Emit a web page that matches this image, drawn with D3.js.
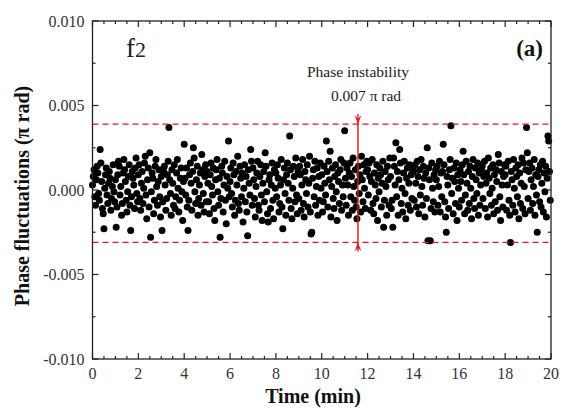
<!DOCTYPE html>
<html><head><meta charset="utf-8">
<script src="https://cdn.jsdelivr.net/npm/d3@7"></script>
<style>body{margin:0;background:#fff}svg{display:block}</style>
</head><body>
<script>
// Phase fluctuations in units of 1e-4 pi rad, one row per minute (30 samples/min, 2 s spacing)
const phaseRows = [
 [3,8,12,-4,-9,6,14,10,-2,-6,24,16,5,-11,-14,-23,1,9,13,-3,-8,4,11,7,-12,-5,2,15,-1,-7],
 [6,-22,-10,9,17,14,-3,2,-15,-8,10,18,12,5,-6,-13,-1,8,15,-9,-24,-4,11,7,3,-11,13,19,-2,-7],
 [9,15,-5,-12,4,11,-8,1,16,20,-3,-17,6,13,-10,22,-28,-1,10,7,-14,-6,14,18,2,-9,5,12,-4,-16],
 [8,-24,-7,11,14,3,-12,-5,9,17,37,6,-2,-15,12,4,-9,15,-11,-4,10,18,1,-13,-6,7,13,-1,-18,5],
 [27,7,-3,13,-10,-24,-6,9,16,4,-12,11,25,19,-1,-8,6,14,-15,-5,3,10,-9,21,12,-2,-13,8,15,-7],
 [11,4,-7,-14,9,16,2,-3,13,-11,-18,6,12,18,-1,-9,7,-28,-5,14,10,-13,3,17,-6,-20,8,1,29,-4],
 [5,13,-2,-10,16,9,-15,-6,11,3,20,-8,-12,14,7,-4,10,-19,1,15,-7,8,-13,-27,12,4,-3,24,17,-9],
 [13,6,-5,-16,2,10,17,-9,-12,8,15,-3,-18,4,11,-7,22,14,-1,-14,-19,6,9,-11,3,16,-6,-17,12,1],
 [10,-4,15,7,-13,-8,3,18,-10,-23,6,13,-2,-15,9,16,4,-6,32,12,-11,-17,1,14,8,-7,19,-3,-14,11],
 [-5,14,9,-12,3,18,-8,-16,11,6,-2,15,-10,4,20,-13,-26,-25,7,12,-4,17,-9,2,13,-15,8,-6,16,1],
 [9,-13,-7,14,4,-3,29,11,-10,17,6,23,-16,2,13,-5,-11,8,15,-1,-18,10,5,-8,12,18,-12,3,-4,16],
 [35,7,-9,13,3,-15,10,16,-4,8,-12,19,2,-6,12,-10,-17,5,14,-2,9,-13,20,6,-7,15,1,-11,11,17],
 [12,-3,16,8,-12,5,18,-8,-14,10,3,-5,15,-18,7,-1,13,9,-10,4,17,-22,-6,11,2,-15,14,6,-9,19],
 [8,-11,-6,-22,19,14,3,28,-4,11,-15,6,24,16,-8,1,-13,10,17,-2,-17,7,13,-9,4,15,-12,9,-5,12],
 [11,-6,15,4,-10,17,8,-14,12,-3,18,2,-9,14,7,-16,10,-5,25,-30,13,6,-30,-11,16,1,-7,9,-13,12],
 [6,14,-9,2,17,-13,10,-4,11,27,15,-7,-16,-25,8,3,-11,12,18,38,-2,7,-14,13,5,-8,16,-18,9,1],
 [-10,12,5,-6,15,23,9,-14,-3,17,4,-12,11,-8,14,1,-17,8,18,-5,-11,13,6,-2,16,-15,10,-9,3,12],
 [14,-5,8,17,-11,4,10,-16,19,7,-2,13,-9,1,15,-14,9,-7,12,5,-12,21,16,-4,-18,11,3,-10,8,15],
 [9,14,-12,3,17,-6,-15,-31,11,6,-9,18,1,-13,13,8,-4,15,-17,10,-8,4,19,-11,16,2,-14,12,37,22],
 [-5,11,16,-12,6,13,-8,2,18,-15,9,-3,-25,8,12,-7,15,-10,4,17,-13,10,-1,14,-16,7,32,29,11,-6]
];
const samplesPerMinute = 30;
const xTicks = [0,2,4,6,8,10,12,14,16,18,20];
const yTicks = [-0.010,-0.005,0.000,0.005,0.010];
const bandUpper = 0.0039;
const bandLower = -0.0031;
const arrowTime = 11.58;
const annotation = ["Phase instability", "0.007 \u03c0 rad"];

const points = [];
phaseRows.forEach((row, m) => row.forEach((v, k) => points.push({t: m + k / samplesPerMinute, y: v * 1e-4})));

const W = 562, H = 411;
const L = 92.5, R = 551, T = 21, B = 359;
const svg = d3.select("body").append("svg").attr("width", W).attr("height", H);
const x = d3.scaleLinear().domain([0, 20]).range([L, R]);
const y = d3.scaleLinear().domain([-0.01, 0.01]).range([B, T]);
const serif = "'Liberation Serif','Times New Roman',serif";

// points
svg.append("g").selectAll("circle").data(points).join("circle")
  .attr("cx", d => x(d.t)).attr("cy", d => y(d.y)).attr("r", 3.5).attr("fill", "#000");

// dashed lines
[bandUpper, bandLower].forEach(v => {
  svg.append("line").attr("x1", L).attr("x2", R).attr("y1", y(v)).attr("y2", y(v))
    .attr("stroke", "#e8141c").attr("stroke-width", 1.3).attr("stroke-dasharray", "6,4");
});

// arrow
const ax = x(arrowTime);
svg.append("line").attr("x1", ax).attr("x2", ax).attr("y1", y(bandUpper) - 10).attr("y2", y(bandLower) + 9)
  .attr("stroke", "#e8141c").attr("stroke-width", 1.4);
const yu = y(bandUpper), yl = y(bandLower);
svg.append("path").attr("d", `M${ax},${yu} L${ax-3.5},${yu-9} L${ax},${yu-5} L${ax+3.5},${yu-9} Z`).attr("fill", "#e8141c");
svg.append("path").attr("d", `M${ax},${yl} L${ax-3.5},${yl+9} L${ax},${yl+5} L${ax+3.5},${yl+9} Z`).attr("fill", "#e8141c");

// axes
const xMinor = d3.range(0, 20.01, 0.5);
const yMinor = d3.range(-0.01, 0.01001, 0.0025);
const axisG = svg.append("g").attr("stroke", "#222").attr("stroke-width", 1.2);
xMinor.forEach(v => {
  const len = xTicks.includes(Math.round(v * 100) / 100) ? 6 : 3;
  axisG.append("line").attr("x1", x(v)).attr("x2", x(v)).attr("y1", B).attr("y2", B - len);
  axisG.append("line").attr("x1", x(v)).attr("x2", x(v)).attr("y1", T).attr("y2", T + len);
});
yMinor.forEach(v => {
  const major = Math.abs(Math.round(v / 0.005) * 0.005 - v) < 1e-6;
  const len = major ? 6 : 3;
  axisG.append("line").attr("y1", y(v)).attr("y2", y(v)).attr("x1", L).attr("x2", L + len);
  axisG.append("line").attr("y1", y(v)).attr("y2", y(v)).attr("x1", R).attr("x2", R - len);
});
svg.append("rect").attr("x", L).attr("y", T).attr("width", R - L).attr("height", B - T)
  .attr("fill", "none").attr("stroke", "#222").attr("stroke-width", 1.3);

svg.append("g").selectAll("text").data(xTicks).join("text")
  .attr("x", d => x(d)).attr("y", B + 20).attr("text-anchor", "middle")
  .attr("font-family", serif).attr("font-size", 16).attr("fill", "#333").text(d => d);
svg.append("g").selectAll("text").data(yTicks).join("text")
  .attr("x", L - 8).attr("y", d => y(d) + 5.5).attr("text-anchor", "end")
  .attr("font-family", serif).attr("font-size", 16).attr("fill", "#333").text(d => d3.format(".3f")(d).replace("\u2212", "-"));

// titles
svg.append("text").attr("x", 313).attr("y", 403).attr("text-anchor", "middle")
  .attr("font-family", serif).attr("font-weight", "bold").attr("font-size", 20).attr("fill", "#111").text("Time (min)");
svg.append("text").attr("transform", `translate(29,${(T + B) / 2 + 6}) rotate(-90)`).attr("text-anchor", "middle")
  .attr("font-family", serif).attr("font-weight", "bold").attr("font-size", 20).attr("fill", "#111").text("Phase fluctuations (\u03c0 rad)");

// labels
const f2 = svg.append("text").attr("x", 126).attr("y", 57).attr("font-family", serif).attr("font-size", 27).attr("fill", "#222");
f2.append("tspan").text("f");
f2.append("tspan").attr("font-size", 22).text("2");
svg.append("text").attr("x", 543).attr("y", 56).attr("text-anchor", "end").attr("font-family", serif)
  .attr("font-weight", "bold").attr("font-size", 23).attr("fill", "#111").text("(a)");
svg.append("text").attr("x", 358).attr("y", 77).attr("text-anchor", "middle").attr("font-family", serif)
  .attr("font-size", 15.5).attr("fill", "#222").text(annotation[0]);
svg.append("text").attr("x", 366).attr("y", 101).attr("text-anchor", "middle").attr("font-family", serif)
  .attr("font-size", 15.5).attr("fill", "#222").text(annotation[1]);
</script>
</body></html>
